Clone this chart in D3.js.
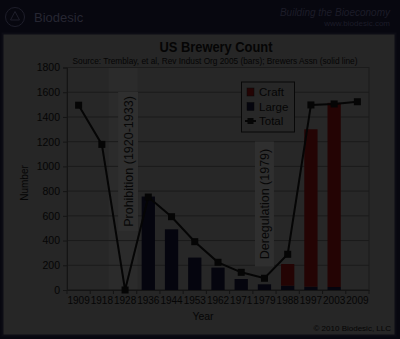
<!DOCTYPE html>
<html><head><meta charset="utf-8">
<script src="https://cdn.jsdelivr.net/npm/d3@7"></script>
<style>html,body{margin:0;padding:0;background:#07070f;}svg{display:block;font-family:"Liberation Sans",Arial,sans-serif;}</style>
</head><body>
<svg id="c" width="400" height="339"></svg>
<script>
const years = ["1909","1918","1928","1936","1944","1953","1962","1971","1979","1988","1997","2003","2009"];
const large = [null,null,0,756,491,262,181,89,46,35,27,24,null];
const craft = [null,null,0,0,0,0,0,0,0,175,1273,1490,null];
const total = [1495,1178,0,752,593,391,224,143,95,289,1497,1505,1523];
const yTicks = [0,200,400,600,800,1000,1200,1400,1600,1800];

const svg = d3.select("#c");
const W=400,H=339;
svg.append("rect").attr("width",W).attr("height",H).attr("fill","#07070f");
// header
const g0 = svg.append("g");
g0.append("circle").attr("cx",15).attr("cy",17).attr("r",9.5).attr("fill","none").attr("stroke","#1e1e2a").attr("stroke-width",1);
g0.append("path").attr("d","M15,11.5 L19.5,20 L10.5,20 Z").attr("fill","none").attr("stroke","#1e1e2a").attr("stroke-width",1);
g0.append("text").attr("x",34).attr("y",21.5).attr("font-size",13).attr("font-weight","300").attr("fill","#262632").text("Biodesic");
g0.append("text").attr("x",390).attr("y",16).attr("text-anchor","end").attr("font-size",10).attr("font-style","italic").attr("fill","#1c1c28").text("Building the Bioeconomy");
g0.append("text").attr("x",390).attr("y",25.5).attr("text-anchor","end").attr("font-size",8).attr("fill","#1c1c28").text("www.biodesic.com");

// panel
svg.append("rect").attr("x",2.5).attr("y",33.5).attr("width",393).attr("height",302).attr("fill","#262626").attr("stroke","#0c0c14").attr("stroke-width",2);

const m={l:67,r:369,t:67.5,b:290};
const x = d3.scaleBand().domain(years).range([m.l,m.r]).paddingInner(0.43).paddingOuter(0.215);
const xb = d3.scaleBand().domain(years).range([m.l,m.r]);
const y = d3.scaleLinear().domain([0,1800]).range([m.b,m.t]);

// plot area
svg.append("rect").attr("x",m.l).attr("y",m.t).attr("width",m.r-m.l).attr("height",m.b-m.t).attr("fill","#272727");

// prohibition band
const px0 = xb("1928")-5, px1 = xb("1936")+1;
svg.append("rect").attr("x",px0).attr("y",m.t).attr("width",px1-px0).attr("height",m.b-m.t).attr("fill","#2b2b2b");

// grid
svg.append("g").selectAll("line").data(yTicks).join("line")
  .attr("x1",m.l).attr("x2",m.r).attr("y1",d=>y(d)).attr("y2",d=>y(d))
  .attr("stroke","#1b1b1b").attr("stroke-width",1);
svg.append("rect").attr("x",m.l).attr("y",m.t).attr("width",m.r-m.l).attr("height",m.b-m.t).attr("fill","none").attr("stroke","#1b1b1b");

// prohibition label
const plx = xb("1928")+xb.bandwidth()/2+3;
svg.append("rect").attr("x",plx-10).attr("y",92).attr("width",20).attr("height",139).attr("fill","#2f2f2f");
svg.append("text").attr("transform",`translate(${plx+4.5},161.5) rotate(-90)`).attr("text-anchor","middle").attr("font-size",12.5).attr("fill","#070707").text("Prohibition (1920-1933)");

// deregulation label
const dlx = xb("1979")+xb.bandwidth()/2;
svg.append("rect").attr("x",dlx-9.5).attr("y",141.5).attr("width",19).attr("height",125).attr("fill","#2f2f2f");
svg.append("text").attr("transform",`translate(${dlx+4.5},204) rotate(-90)`).attr("text-anchor","middle").attr("font-size",12.5).attr("fill","#070707").text("Deregulation (1979)");

// bars
const bars = svg.append("g");
years.forEach((yr,i)=>{
  if(large[i]){
    bars.append("rect").attr("x",x(yr)).attr("width",x.bandwidth()).attr("y",y(large[i])).attr("height",y(0)-y(large[i])).attr("fill","#05050e");
  }
  if(craft[i]){
    bars.append("rect").attr("x",x(yr)).attr("width",x.bandwidth()).attr("y",y(large[i]+craft[i])).attr("height",y(large[i])-y(large[i]+craft[i])).attr("fill","#240404");
  }
});

// axes
const ya = svg.append("g").attr("transform",`translate(${m.l},0)`).call(d3.axisLeft(y).tickValues(yTicks).tickFormat(d3.format("d")).tickSize(4).tickPadding(3));
ya.selectAll("text").attr("font-size",10.5).attr("fill","#050505").attr("font-family","Liberation Sans, Arial");
ya.selectAll("line,path").attr("stroke","#141414");
const xa = svg.append("g").attr("transform",`translate(0,${m.b})`).call(d3.axisBottom(xb).tickSize(0).tickPadding(7));
xa.selectAll("text").attr("font-size",10).attr("fill","#050505").attr("font-family","Liberation Sans, Arial");
xa.select("path").attr("stroke","#141414");
svg.append("g").selectAll("line").data(years.concat(["end"])).join("line")
  .attr("x1",(d,i)=>m.l+i*xb.step()).attr("x2",(d,i)=>m.l+i*xb.step()).attr("y1",m.b).attr("y2",m.b+4).attr("stroke","#141414");

// line
const line = d3.line().x((d,i)=>xb(years[i])+xb.bandwidth()/2).y(d=>y(d));
svg.append("path").datum(total).attr("d",line).attr("fill","none").attr("stroke","#050505").attr("stroke-width",2);
svg.append("g").selectAll("rect").data(total).join("rect")
  .attr("x",(d,i)=>xb(years[i])+xb.bandwidth()/2-3.5).attr("y",d=>y(d)-3.5).attr("width",7).attr("height",7).attr("fill","#050505");

// titles
svg.append("text").attr("x",216).attr("y",52).attr("text-anchor","middle").attr("font-size",15).attr("font-weight","bold").attr("fill","#050505")
  .attr("textLength",113).attr("lengthAdjust","spacingAndGlyphs").text("US Brewery Count");
svg.append("text").attr("x",215).attr("y",64).attr("text-anchor","middle").attr("font-size",9).attr("fill","#050505")
  .attr("textLength",285).attr("lengthAdjust","spacingAndGlyphs").text("Source: Tremblay, et al, Rev Indust Org 2005 (bars); Brewers Assn (solid line)");
svg.append("text").attr("transform","translate(28,183) rotate(-90)").attr("text-anchor","middle").attr("font-size",10).attr("fill","#050505").text("Number");
svg.append("text").attr("x",203).attr("y",320).attr("text-anchor","middle").attr("font-size",10.5).attr("fill","#050505").text("Year");
svg.append("text").attr("x",391).attr("y",331).attr("text-anchor","end").attr("font-size",8).attr("fill","#050505").text("\u00a9 2010 Biodesic, LLC");

// legend
const lg = svg.append("g");
lg.append("rect").attr("x",241.5).attr("y",82).attr("width",53).attr("height",50).attr("fill","#272727").attr("stroke","#080808").attr("stroke-width",1);
const items=[{n:"Craft",c:"#240404"},{n:"Large",c:"#05050e"}];
items.forEach((it,i)=>{
  lg.append("rect").attr("x",247).attr("y",88+i*14.5).attr("width",7).attr("height",8).attr("fill",it.c).attr("stroke","#080808").attr("stroke-width",0.5);
  lg.append("text").attr("x",259).attr("y",96+i*14.5).attr("font-size",11.5).attr("fill","#050505").text(it.n);
});
lg.append("line").attr("x1",245).attr("x2",256).attr("y1",121).attr("y2",121).attr("stroke","#050505").attr("stroke-width",2);
lg.append("rect").attr("x",247.5).attr("y",118).attr("width",6).attr("height",6).attr("fill","#050505");
lg.append("text").attr("x",259).attr("y",125).attr("font-size",11.5).attr("fill","#050505").text("Total");
</script>
</body></html>
